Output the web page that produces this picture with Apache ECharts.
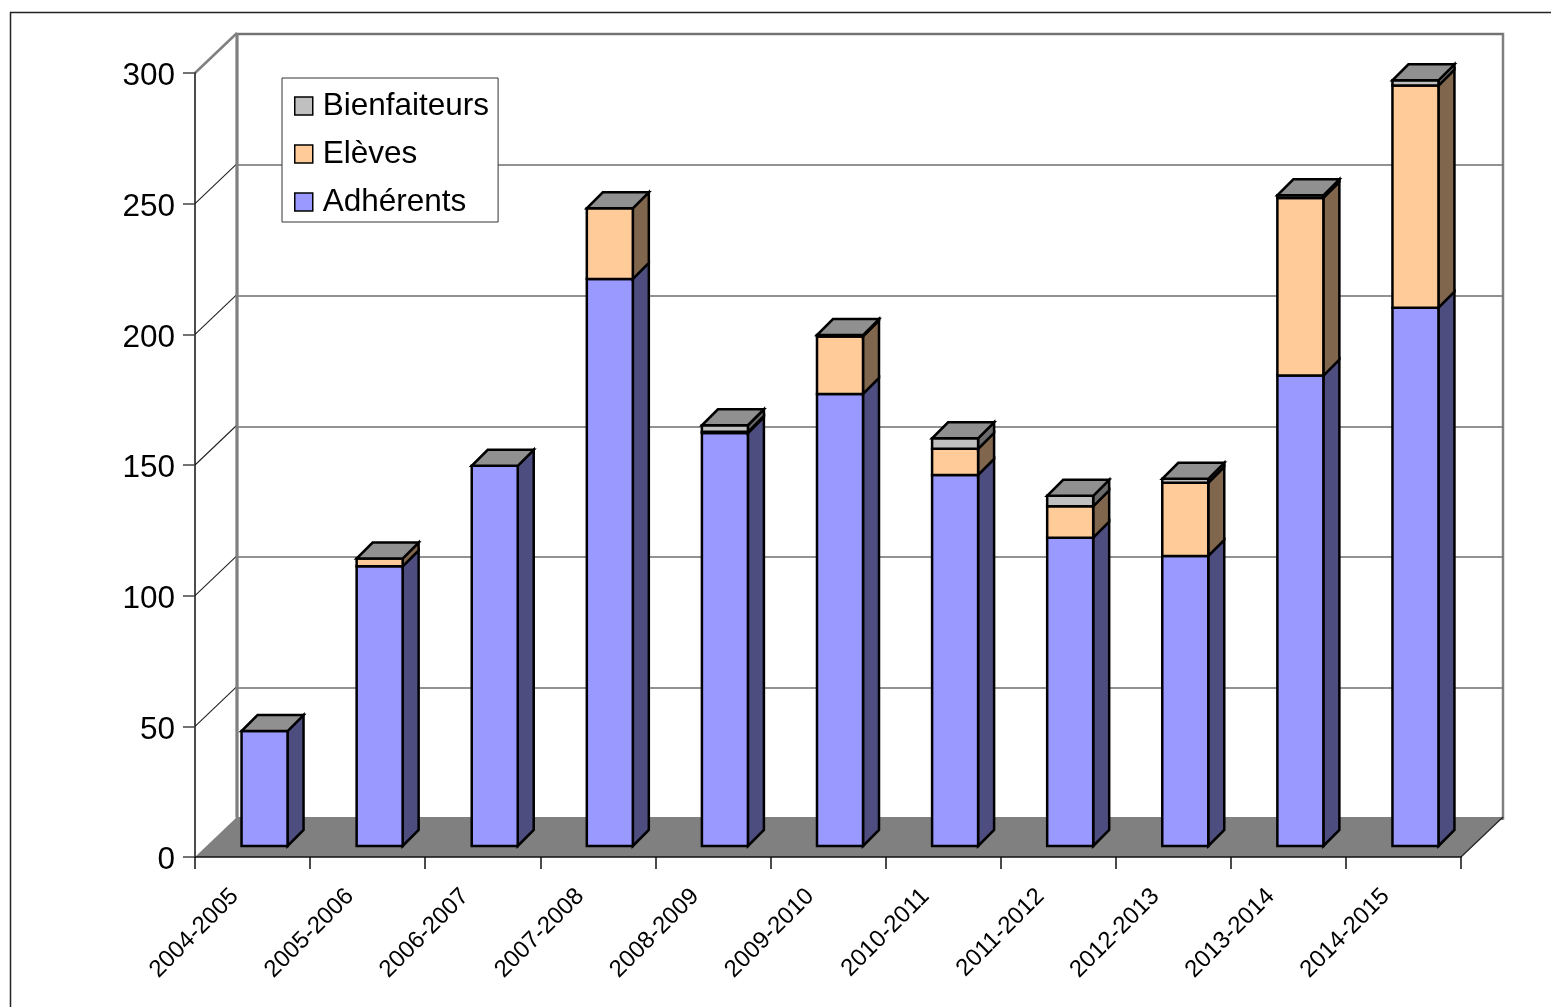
<!DOCTYPE html>
<html>
<head>
<meta charset="utf-8">
<style>html,body{margin:0;padding:0;background:#fff}#c{width:1551px;height:1007px}</style>
<script src="https://cdn.jsdelivr.net/npm/echarts@6/dist/echarts.min.js"></script>
</head>
<body>
<div id="c"></div>
<script>
const categories = ['2004-2005','2005-2006','2006-2007','2007-2008','2008-2009','2009-2010','2010-2011','2011-2012','2012-2013','2013-2014','2014-2015'];
const adherents    = [44, 107, 145.5, 217, 158, 173, 142, 118, 111, 180, 206];
const eleves       = [0, 3, 0, 27, 0.5, 22, 10, 12, 28, 68, 85];
const bienfaiteurs = [0, 0, 0, 0, 2.5, 0.5, 4, 4, 1.5, 1, 2];
const yTicks = [0, 50, 100, 150, 200, 250, 300];

const WALL_DX = 42, WALL_DY = -40;   // depth of the chart box
const BAR_DX = 12, BAR_DY = -11;     // bar plane inside the box
const BAR_W = 46, BAR_DEPTH = 16;    // bar size
const FONT = '"Liberation Sans", Arial, sans-serif';
const EDGE = {stroke:'#000', lineWidth:2.5, lineJoin:'miter'};

function pts(a){ return {points:a}; }

function stackRows(lower, own, upperTotal){
  return categories.map((c,i)=>[i, lower[i], lower[i]+own[i], upperTotal[i]]);
}
const totals = categories.map((c,i)=>adherents[i]+eleves[i]+bienfaiteurs[i]);
const base2 = adherents;
const base3 = categories.map((c,i)=>adherents[i]+eleves[i]);
const zeros = categories.map(()=>0);

function barSeries(name, color, side, lower, own){
  return {
    name, type:'custom', z:3, xAxisIndex:0, yAxisIndex:0,
    itemStyle:{color},
    encode:{x:0, y:[1,2]},
    data:stackRows(lower, own, totals),
    renderItem(params, api){
      const i = api.value(0), from = api.value(1), to = api.value(2), total = api.value(3);
      if (to <= from) return null;
      const cx = api.coord([i,0])[0] + BAR_DX;
      const yb = api.coord([i,from])[1] + BAR_DY;
      const yt = api.coord([i,to])[1] + BAR_DY;
      const l = cx - BAR_W/2, r = cx + BAR_W/2, d = BAR_DEPTH;
      const kids = [
        {type:'polygon', shape:pts([[r,yb],[r+d,yb-d],[r+d,yt-d],[r,yt]]), style:{fill:side, ...EDGE}},
        {type:'polygon', shape:pts([[l,yb],[r,yb],[r,yt],[l,yt]]), style:{fill:color, ...EDGE}}
      ];
      if (to >= total - 1e-6) {
        kids.push({type:'polygon', shape:pts([[l,yt],[r,yt],[r+d,yt-d],[l+d,yt-d]]), style:{fill:'#909090', ...EDGE}});
      }
      return {type:'group', children:kids};
    }
  };
}

const option = {
  backgroundColor:'#fff',
  animation:false,
  textStyle:{fontFamily:FONT},
  graphic:[{type:'polyline', silent:true, shape:{points:[[10.5,1007],[10.5,12.5],[1551,12.5]]}, style:{fill:null, stroke:'#222', lineWidth:1.5}}],
  legend:{
    data:['Bienfaiteurs','Elèves','Adhérents'],
    orient:'vertical', left:282, top:78, selectedMode:false,
    backgroundColor:'#fff', borderColor:'#333', borderWidth:1,
    padding:[12,9,4,12],
    icon:'rect', itemWidth:18, itemHeight:18, itemGap:16,
    itemStyle:{borderColor:'#000', borderWidth:1.5},
    textStyle:{fontFamily:FONT, fontSize:31.5, color:'#000', lineHeight:31, padding:[1,0,0,5]},
    z:20
  },
  grid:[
    {left:195, right:90, top:73, bottom:150},
    {left:195+WALL_DX, right:90-WALL_DX, top:34, bottom:188.5, show:true, backgroundColor:'#fff', borderColor:'#808080', borderWidth:2.5, z:0}
  ],
  xAxis:[
    {type:'category', gridIndex:0, data:categories, z:10, boundaryGap:true,
     axisLine:{lineStyle:{color:'#111', width:1.5}},
     axisTick:{show:true, alignWithLabel:false, interval:0, length:12, lineStyle:{color:'#111', width:1.5}},
     axisLabel:{interval:0, rotate:45, margin:18, fontSize:24, color:'#000', fontFamily:FONT, hideOverlap:false, padding:[0,25,0,0]},
     splitLine:{show:false}},
    {type:'category', gridIndex:1, data:categories, show:false}
  ],
  yAxis:[
    {type:'value', gridIndex:0, min:0, max:300, interval:50, z:10,
     axisLine:{show:true, lineStyle:{color:'#111', width:1.5}},
     axisTick:{show:true, length:12, lineStyle:{color:'#444', width:1.5}},
     axisLabel:{margin:20, fontFamily:FONT, formatter:'{n|{value}}',
       rich:{n:{fontFamily:FONT, fontSize:31.5, color:'#000', padding:[7,0,0,0]}}},
     splitLine:{show:false}},
    {type:'value', gridIndex:1, min:0, max:300, interval:50,
     axisLine:{show:false}, axisTick:{show:false}, axisLabel:{show:false},
     splitLine:{show:true, lineStyle:{color:'#6e6e6e', width:1.5}}}
  ],
  series:[
    {
      type:'custom', name:'plancher', z:1, xAxisIndex:0, yAxisIndex:0, silent:true, legendHoverLink:false,
      data:[[0]],
      renderItem(params, api){
        const band = api.size([1,0])[0];
        const last = categories.length - 1;
        const xl = api.coord([0,0])[0] - band/2;
        const xr = api.coord([last,0])[0] + band/2;
        const y = api.coord([0,0])[1];
        const kids = [{type:'polygon', shape:pts([[xl,y],[xr,y],[xr+WALL_DX,y+WALL_DY],[xl+WALL_DX,y+WALL_DY]]), style:{fill:'#808080', stroke:null}},
          {type:'line', shape:{x1:xr,y1:y,x2:xr+WALL_DX,y2:y+WALL_DY}, style:{stroke:'#222', lineWidth:1.2}}];
        yTicks.forEach(t=>{
          if (t===0) return;
          const yy = api.coord([0,t])[1];
          const top = t===yTicks[yTicks.length-1];
          kids.push({type:'line', shape:{x1:xl,y1:yy,x2:xl+WALL_DX,y2:yy+WALL_DY},
            style:{stroke: top?'#808080':'#222', lineWidth: top?2.5:1.1}});
        });
        kids.push({type:'line', shape:{x1:xl+WALL_DX,y1:api.coord([0,300])[1]+WALL_DY,x2:xl+WALL_DX,y2:y+WALL_DY}, style:{stroke:'#808080', lineWidth:3}});
        return {type:'group', children:kids};
      }
    },
    barSeries('Adhérents','#9999FF','#4D4D80', zeros, adherents),
    barSeries('Elèves','#FFCC99','#80664D', base2, eleves),
    barSeries('Bienfaiteurs','#C0C0C0','#6A6A6A', base3, bienfaiteurs)
  ]
};
echarts.init(document.getElementById('c'), null, {renderer:'canvas'}).setOption(option);
</script>
</body>
</html>
